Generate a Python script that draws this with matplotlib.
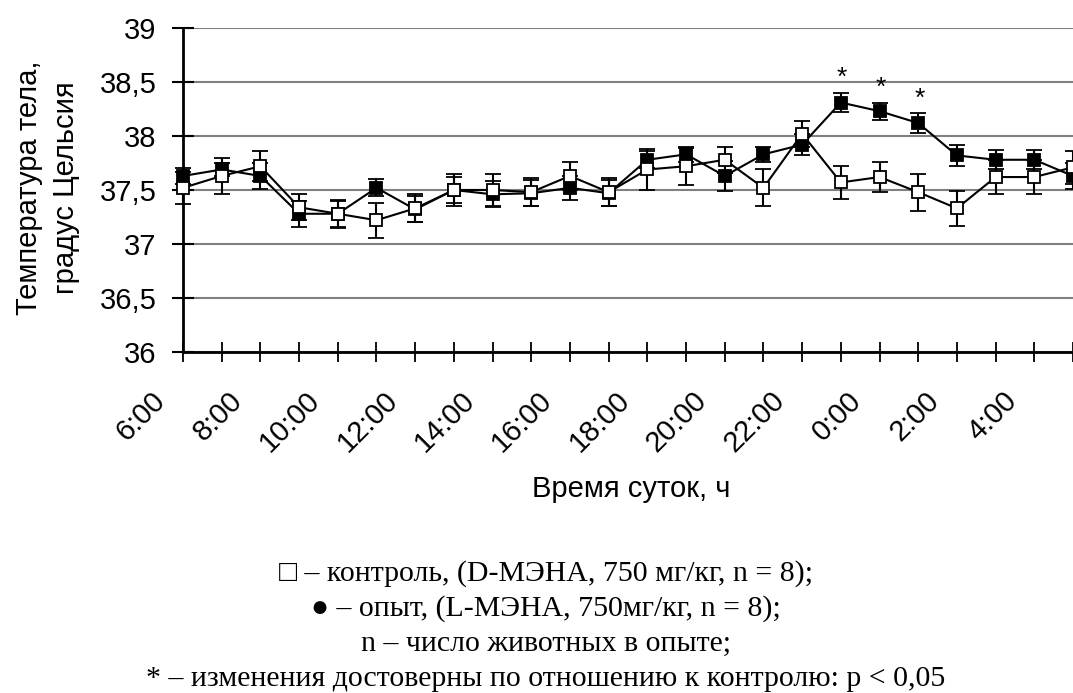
import matplotlib
matplotlib.use('Agg')
import matplotlib.pyplot as plt
import matplotlib.transforms as mtransforms
import numpy as np

# время суток, часы (6:00 ... 5:00)
hours = [6, 7, 8, 9, 10, 11, 12, 13, 14, 15, 16, 17, 18, 19, 20, 21, 22, 23, 0, 1, 2, 3, 4, 5]

# опыт (L-МЭНА), закрашенные квадраты
opyt = [37.63, 37.69, 37.63, 37.28, 37.28, 37.52, 37.32, 37.50, 37.46, 37.47, 37.52, 37.47,
        37.78, 37.83, 37.63, 37.83, 37.92, 38.31, 38.23, 38.12, 37.82, 37.78, 37.78, 37.63]
opyt_err = [0.07, 0.06, 0.12, 0.12, 0.12, 0.08, 0.12, 0.12, 0.12, 0.12, 0.11, 0.12,
            0.08, 0.07, 0.14, 0.07, 0.10, 0.09, 0.08, 0.09, 0.10, 0.09, 0.09, 0.12]

# контроль (D-МЭНА), пустые квадраты
kontrol = [37.52, 37.63, 37.72, 37.34, 37.28, 37.22, 37.33, 37.50, 37.50, 37.48, 37.63, 37.48,
           37.69, 37.72, 37.78, 37.52, 38.02, 37.57, 37.62, 37.48, 37.33, 37.62, 37.62, 37.71]
kontrol_err = [0.15, 0.17, 0.14, 0.12, 0.13, 0.16, 0.13, 0.15, 0.15, 0.13, 0.13, 0.13,
               0.19, 0.17, 0.12, 0.17, 0.12, 0.15, 0.14, 0.17, 0.16, 0.16, 0.16, 0.15]

# достоверные отличия (индексы точек)
signif = [17, 18, 19]

yticks = [36, 36.5, 37, 37.5, 38, 38.5, 39]
ytick_labels = ['36', '36,5', '37', '37,5', '38', '38,5', '39']

notes = [
    '\u25a1 \u2013 контроль, (D-МЭНА, 750 мг/кг, n = 8);',
    '\u25cf \u2013 опыт, (L-МЭНА, 750мг/кг, n = 8);',
    'n \u2013 число животных в опыте;',
    '* \u2013 изменения достоверны по отношению к контролю: p < 0,05',
]

plt.rcParams['font.family'] = ['Liberation Sans', 'DejaVu Sans']

W, H = 1073, 693
fig = plt.figure(figsize=(W / 100, H / 100), dpi=100)
ax = fig.add_axes([183 / W, 1 - 352 / H, 890 / W, 324 / H])

x = np.arange(len(hours))

eb1 = ax.errorbar(x, opyt, yerr=opyt_err, color='black', lw=1.5, marker='s', ms=8,
                  mfc='black', mec='black', mew=1.3, capsize=5.5, capthick=1.5, elinewidth=1.5, zorder=3)
eb2 = ax.errorbar(x, kontrol, yerr=kontrol_err, color='black', lw=1.5, marker='s', ms=8,
                  mfc='white', mec='black', mew=1.3, capsize=5.5, capthick=1.5, elinewidth=1.5, zorder=4)
for eb in (eb1, eb2):
    for a in eb.get_children():
        a.set_clip_on(False)

for i in signif:
    ax.annotate('*', (x[i], opyt[i] + opyt_err[i]), xytext=(1, 2), textcoords='offset points',
                ha='center', va='bottom', fontsize=19)

ax.set_xlim(0, len(hours) - 1)
ax.set_ylim(36, 39)
ax.set_yticks(yticks)
ax.set_yticklabels(ytick_labels, fontsize=21)
ax.set_xticks(x)
ax.set_xticklabels(['%d:00' % h if i % 2 == 0 else '' for i, h in enumerate(hours)],
                   fontsize=21, rotation=45, ha='right', va='top', rotation_mode='anchor')
ax.tick_params(axis='y', direction='inout', length=16, width=1.5, pad=11)
ax.tick_params(axis='x', direction='inout', length=14, width=1.3, pad=4)

# сдвиг подписей оси X, как в исходном рисунке
shift = mtransforms.ScaledTranslation(-32 / 100, -19 / 100, fig.dpi_scale_trans)
for lab in ax.get_xticklabels():
    lab.set_transform(lab.get_transform() + shift)

ax.grid(axis='y', color='#808080', lw=1.5)
ax.set_axisbelow(True)
for s in ['top', 'right']:
    ax.spines[s].set_visible(False)
ax.spines['left'].set_linewidth(2)
ax.spines['bottom'].set_linewidth(2)

fig.text(47.5 / W, 1 - 188 / H, 'Температура тела,\nградус Цельсия', rotation=90,
         ha='center', va='center', fontsize=21, linespacing=1.45)
fig.text(631 / W, 1 - 497 / H, 'Время суток, ч', ha='center', va='baseline', fontsize=21)

baselines = [581, 616, 651, 686]
for t, yb in zip(notes, baselines):
    fig.text(546 / W, 1 - yb / H, t, ha='center', va='baseline', fontsize=21.5,
             family=['Liberation Serif', 'DejaVu Sans'])

fig.savefig('out.png', dpi=100)
